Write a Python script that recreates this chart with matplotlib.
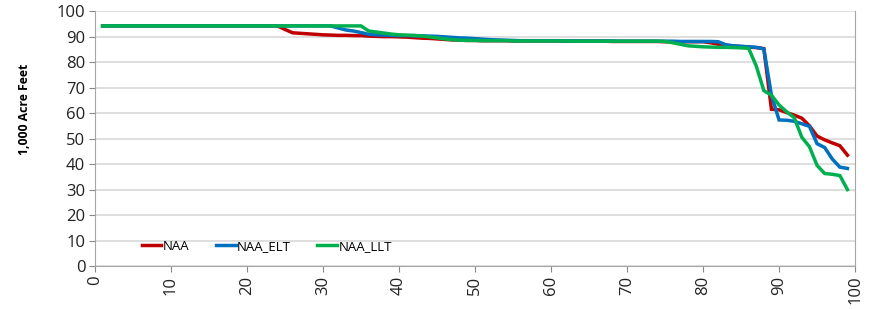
import numpy as np
import matplotlib
matplotlib.use("Agg")
import matplotlib.pyplot as plt

plt.rcParams['font.family'] = ['Open Sans', 'DejaVu Sans']

# exceedance rank (1..99)
x_values = list(range(1, 100))

naa = [94.2, 94.2, 94.2, 94.2, 94.2, 94.2, 94.2, 94.2, 94.2, 94.2,
       94.2, 94.2, 94.2, 94.2, 94.2, 94.2, 94.2, 94.2, 94.2, 94.2,
       94.2, 94.2, 94.2, 94.2, 92.8, 91.5, 91.3, 91.1, 90.9, 90.7,
       90.6, 90.5, 90.5, 90.4, 90.4, 90.2, 90.1, 90.0, 90.0, 89.9,
       89.8, 89.6, 89.4, 89.3, 89.1, 88.9, 88.7, 88.6, 88.5, 88.5,
       88.4, 88.4, 88.4, 88.4, 88.3, 88.3, 88.3, 88.3, 88.3, 88.3,
       88.3, 88.2, 88.2, 88.2, 88.2, 88.2, 88.2, 88.1, 88.1, 88.1,
       88.1, 88.1, 88.1, 88.1, 88.0, 88.0, 88.0, 88.0, 88.0, 88.0,
       87.6, 87.0, 86.6, 86.3, 86.1, 85.9, 85.7, 85.3, 61.5, 61.3,
       60.2, 59.2, 58.0, 55.0, 51.0, 49.5, 48.3, 47.2, 43.5]

naa_elt = [94.2, 94.2, 94.2, 94.2, 94.2, 94.2, 94.2, 94.2, 94.2, 94.2,
           94.2, 94.2, 94.2, 94.2, 94.2, 94.2, 94.2, 94.2, 94.2, 94.2,
           94.2, 94.2, 94.2, 94.2, 94.2, 94.2, 94.2, 94.2, 94.2, 94.2,
           94.2, 93.4, 92.6, 92.2, 91.6, 90.9, 90.7, 90.6, 90.5, 90.4,
           90.4, 90.3, 90.3, 90.2, 90.1, 89.9, 89.7, 89.5, 89.4, 89.2,
           89.0, 88.8, 88.7, 88.6, 88.5, 88.4, 88.4, 88.4, 88.4, 88.4,
           88.4, 88.3, 88.3, 88.3, 88.3, 88.3, 88.3, 88.3, 88.2, 88.2,
           88.2, 88.2, 88.2, 88.2, 88.2, 88.2, 88.1, 88.1, 88.1, 88.1,
           88.1, 88.0, 86.8, 86.4, 86.2, 86.0, 85.8, 85.2, 67.0, 57.3,
           57.2, 56.8, 55.8, 54.8, 48.0, 46.5, 42.0, 38.8, 38.3]

naa_llt = [94.2, 94.2, 94.2, 94.2, 94.2, 94.2, 94.2, 94.2, 94.2, 94.2,
           94.2, 94.2, 94.2, 94.2, 94.2, 94.2, 94.2, 94.2, 94.2, 94.2,
           94.2, 94.2, 94.2, 94.2, 94.2, 94.2, 94.2, 94.2, 94.2, 94.2,
           94.2, 94.2, 94.2, 94.2, 94.2, 92.2, 91.8, 91.4, 91.0, 90.7,
           90.6, 90.5, 90.2, 89.9, 89.5, 89.1, 88.8, 88.6, 88.5, 88.5,
           88.4, 88.4, 88.4, 88.4, 88.3, 88.3, 88.3, 88.3, 88.3, 88.3,
           88.3, 88.3, 88.2, 88.2, 88.2, 88.2, 88.2, 88.2, 88.2, 88.2,
           88.2, 88.2, 88.2, 88.2, 88.1, 87.6, 87.0, 86.4, 86.2, 86.0,
           85.9, 85.8, 85.8, 85.7, 85.6, 85.4, 78.5, 68.8, 67.0, 63.2,
           60.5, 58.2, 50.5, 46.8, 39.5, 36.3, 36.0, 35.5, 30.0]

series = [("NAA", naa, "#C00000"),
          ("NAA_ELT", naa_elt, "#0070C0"),
          ("NAA_LLT", naa_llt, "#00B050")]

fig = plt.figure(figsize=(8.75, 3.09), dpi=100)
ax = fig.add_axes([0.1086, 0.139, 0.8686, 0.825])

for name, vals, col in series:
    ax.plot(x_values, vals, color=col, lw=2.5, label=name, solid_joinstyle="miter")

ax.set_xlim(0, 100)
ax.set_ylim(0, 100)
ax.set_xticks(range(0, 101, 10))
ax.set_yticks(range(0, 101, 10))
ax.tick_params(axis="x", labelrotation=90, labelsize=12, colors="#888888",
               labelcolor="#222222", length=4, pad=3)
ax.tick_params(axis="y", labelsize=12, colors="#888888",
               labelcolor="#222222", length=4, pad=3)
ax.grid(axis="y", color="#d9d9d9", lw=1.2)
ax.set_axisbelow(True)
for s in ["left", "bottom", "right"]:
    ax.spines[s].set_color("#a6a6a6")
ax.spines["top"].set_visible(False)

ax.set_ylabel("1,000 Acre Feet", fontsize=8.8, fontweight="bold")
ax.yaxis.set_label_coords(-0.084, 0.616)

ax.legend(loc="center", bbox_to_anchor=(0.226, 0.078), ncol=3, frameon=False,
          fontsize=9.5, handlelength=1.5, handletextpad=0.1, columnspacing=2.0)

plt.savefig("out.png", dpi=100)
